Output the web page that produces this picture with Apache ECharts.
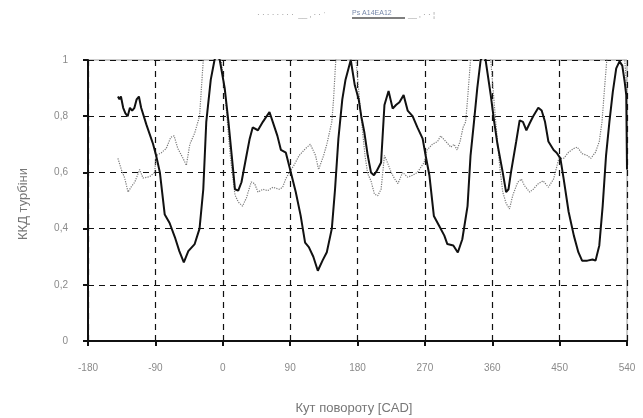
<!DOCTYPE html>
<html><head><meta charset="utf-8">
<script src="https://cdn.jsdelivr.net/npm/echarts@6/dist/echarts.min.js"></script>
<style>html,body{margin:0;padding:0;background:#fff}#c{width:643px;height:418px}</style>
</head><body><div id="c"></div>
<script>
// Solid (thick) curve: crank angle [CAD] and turbine efficiency
const solidX = [-140,-138,-136,-133,-130,-127,-124,-121,-118,-115,-112,-109,-102,-93,-89,-84,-77.5,-71,-64,-58,-52,-46,-37.5,-31,-26,-22,-16,-11,-8,-4,2.6,7.6,12,16.3,20.7,25,31.7,36,40,47,53.6,62.4,66.8,73,77.7,84.3,91,97.5,104,110,115,121,127,133.4,139,145.7,150,154.5,159.7,164,171,176.4,181.6,185,189,193.7,198,202,206,211.5,216,221.5,227,231.4,236,241.6,247,253.6,260,267,271,276,282,289,296,300,308,314,320,327,331,335.6,340,344.5,350,358,362.6,367,374,378.5,381.7,385,392,396.6,401,405.6,410,414.7,421.5,426,430.5,435,442,446,451,455.4,462,469,475,480,487,494,498,503,507.5,512,516.5,521,525.6,530,533.7,537,539,540];
const solidY = [0.87,0.86,0.87,0.83,0.81,0.80,0.83,0.82,0.83,0.86,0.87,0.83,0.77,0.70,0.66,0.60,0.45,0.42,0.37,0.32,0.28,0.32,0.345,0.40,0.54,0.78,0.93,1.0,1.02,1.0,0.90,0.78,0.66,0.54,0.535,0.565,0.66,0.72,0.76,0.75,0.78,0.815,0.78,0.73,0.68,0.67,0.60,0.53,0.447,0.35,0.334,0.30,0.25,0.287,0.316,0.40,0.54,0.72,0.86,0.93,1.0,0.91,0.86,0.80,0.745,0.66,0.60,0.59,0.607,0.635,0.84,0.89,0.827,0.84,0.85,0.875,0.82,0.80,0.76,0.72,0.66,0.59,0.445,0.41,0.375,0.345,0.34,0.315,0.362,0.48,0.66,0.78,0.90,1.0,1.02,0.875,0.78,0.70,0.60,0.53,0.54,0.60,0.71,0.785,0.78,0.75,0.775,0.80,0.83,0.82,0.78,0.71,0.68,0.67,0.65,0.577,0.46,0.375,0.316,0.286,0.286,0.29,0.286,0.34,0.48,0.66,0.78,0.886,0.97,0.995,0.98,0.92,0.875,0.61];
// Dotted (thin) curve
const dottedX = [-140,-135.5,-131,-126.5,-122,-117.6,-111,-106.5,-97.6,-91,-89,-82,-75.5,-69.5,-65,-60,-53,-48.6,-44,-37.5,-31,-28.5,-26,-14,-2,4,10,16.3,20.7,26.4,31.7,38,42.6,47,53.6,60,67,75.5,80,84.3,89,95,102,110.6,117,124,128,134.7,139,145.7,148,151,165,178,184,190,193.7,198,202.6,207,211.5,216,220,225,229.6,234,240.3,247,253.6,260,269,273,280,287,291,298,304.6,309,313,317,321,324.5,327,331,345,358,364,370,374,378.5,383,387.6,394,399,403,410,414.7,421.5,428,435,442,449,455.4,462,469,473.5,480,487,491.6,498,503,506.6,510,513,525,537,540];
const dottedY = [0.65,0.61,0.58,0.53,0.55,0.565,0.61,0.58,0.585,0.60,0.66,0.67,0.685,0.725,0.73,0.685,0.65,0.625,0.70,0.74,0.80,0.90,1.0,1.1,1.0,0.85,0.66,0.52,0.495,0.48,0.51,0.566,0.56,0.53,0.54,0.535,0.547,0.54,0.547,0.578,0.60,0.625,0.66,0.685,0.70,0.66,0.61,0.66,0.70,0.78,0.86,1.0,1.1,1.0,0.82,0.66,0.595,0.57,0.523,0.517,0.54,0.66,0.635,0.60,0.577,0.56,0.60,0.583,0.59,0.60,0.635,0.68,0.70,0.71,0.73,0.71,0.69,0.70,0.68,0.71,0.76,0.78,0.86,1.0,1.1,1.0,0.80,0.62,0.53,0.49,0.47,0.52,0.565,0.576,0.553,0.53,0.54,0.56,0.57,0.547,0.577,0.65,0.65,0.672,0.685,0.69,0.667,0.66,0.65,0.672,0.71,0.78,0.90,1.0,1.1,1.0,0.88];
const xTicks = [-180,-90,0,90,180,270,360,450,540];
const yTicks = [0,0.2,0.4,0.6,0.8,1];
const xTitle = 'Кут повороту [CAD]';
const yTitle = 'ККД турбіни';
const legendText = 'Ps A14EA12';

const pair = (xs, ys) => xs.map((x, i) => [x, ys[i]]);
const chart = echarts.init(document.getElementById('c'), null, {renderer: 'canvas'});
const fmtY = v => (Math.round(v * 10) / 10).toString().replace('.', ',');
chart.setOption({
  animation: false,
  backgroundColor: '#fff',
  grid: {left: 88, right: 16, top: 60, bottom: 77, show: true, borderColor: '#9a9a9a', borderWidth: 1},
  xAxis: {
    type: 'value', min: xTicks[0], max: xTicks[xTicks.length - 1], interval: 90,
    axisLine: {onZero: false, lineStyle: {color: '#111', width: 2}},
    axisTick: {show: true, length: 5, lineStyle: {color: '#111', width: 2}},
    axisLabel: {color: '#8a8a8a', fontSize: 10, margin: 22, fontFamily: 'Liberation Sans'},
    splitLine: {show: true, lineStyle: {color: '#111', type: [6, 5], width: 1.2}}
  },
  yAxis: {
    type: 'value', min: yTicks[0], max: yTicks[yTicks.length - 1], interval: 0.2,
    axisLine: {show: true, onZero: false, lineStyle: {color: '#111', width: 2}},
    axisTick: {show: true, length: 5, lineStyle: {color: '#111', width: 2}},
    axisLabel: {color: '#8a8a8a', fontSize: 10, margin: 20, formatter: fmtY, fontFamily: 'Liberation Sans'},
    splitLine: {show: true, lineStyle: {color: '#111', type: [6, 5], width: 1.2}}
  },
  series: [
    {type: 'line', data: pair(dottedX, dottedY), showSymbol: false, clip: true,
     lineStyle: {color: '#7a7a7a', width: 1.2, type: 'dotted'}, z: 2},
    {type: 'line', data: pair(solidX, solidY), showSymbol: false, clip: true,
     lineStyle: {color: '#111', width: 2}, z: 3}
  ],
  graphic: [
    {type: 'text', x: 23, y: 204, rotation: Math.PI / 2, style: {text: yTitle, fill: '#777', fontSize: 13, fontFamily: 'Liberation Sans', align: 'center', verticalAlign: 'middle'}},
    {type: 'text', x: 354, y: 408, style: {text: xTitle, fill: '#777', fontSize: 13, fontFamily: 'Liberation Sans', align: 'center', verticalAlign: 'middle'}},
    {type: 'text', x: 257, y: 15, style: {text: '· · · · · · · ·  __ ‚ · · \u02C8', fill: '#999', fontSize: 8, fontFamily: 'Liberation Sans', verticalAlign: 'middle'}},
    {type: 'text', x: 352, y: 13, style: {text: legendText, fill: '#7788aa', fontSize: 7, fontFamily: 'Liberation Sans', verticalAlign: 'middle'}},
    {type: 'line', shape: {x1: 352, y1: 18, x2: 405, y2: 18}, style: {stroke: '#555', lineWidth: 1.5}},
    {type: 'text', x: 408, y: 15, style: {text: '__ ‚ · ' + '· \u00A6', fill: '#999', fontSize: 8, fontFamily: 'Liberation Sans', verticalAlign: 'middle'}}
  ]
});
</script></body></html>
